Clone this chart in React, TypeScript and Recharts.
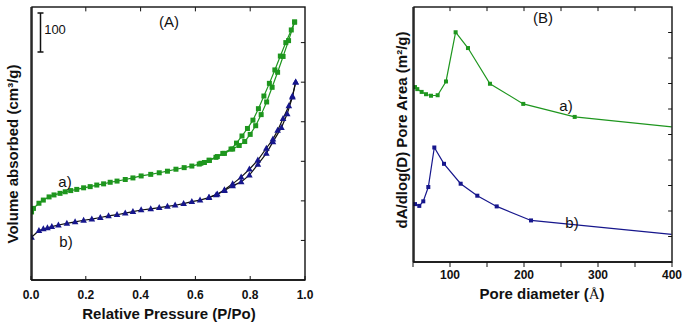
import React from 'react';
import { LineChart, Line, XAxis, YAxis, ReferenceLine } from 'recharts';

// (A) N2 isotherms, relative pressure vs volume (cm3/g)
const greenAdsP = [0.002, 0.009, 0.029, 0.045, 0.066, 0.084, 0.106, 0.125, 0.145, 0.167, 0.192, 0.216, 0.24, 0.265, 0.289, 0.314, 0.344, 0.372, 0.402, 0.437, 0.468, 0.498, 0.529, 0.559, 0.587, 0.614, 0.633, 0.651, 0.675, 0.706, 0.736, 0.76, 0.78, 0.8, 0.82, 0.84, 0.86, 0.88, 0.9, 0.92, 0.94, 0.962];
const greenAdsV = [172, 181, 194, 202, 210, 215, 219, 223, 226, 229, 233, 236, 240, 243, 247, 250, 254, 258, 263, 267, 271, 275, 280, 284, 288, 293, 297, 302, 310, 320, 331, 340, 350, 368, 390, 418, 450, 487, 525, 565, 605, 652];
const greenDesP = [0.962, 0.95, 0.93, 0.91, 0.89, 0.87, 0.85, 0.83, 0.81, 0.79, 0.77, 0.75, 0.73, 0.7, 0.68, 0.65, 0.62];
const greenDesV = [652, 632, 600, 566, 531, 497, 465, 433, 404, 383, 364, 346, 331, 320, 312, 303, 295];

const blueAdsP = [0.002, 0.029, 0.045, 0.06, 0.076, 0.1, 0.131, 0.161, 0.192, 0.222, 0.253, 0.283, 0.314, 0.344, 0.372, 0.402, 0.437, 0.468, 0.498, 0.526, 0.557, 0.587, 0.617, 0.649, 0.676, 0.706, 0.736, 0.767, 0.797, 0.828, 0.859, 0.883, 0.914, 0.935, 0.954, 0.966];
const blueAdsV = [108, 125, 129, 132, 135, 139, 143, 147, 151, 154, 158, 162, 165, 169, 173, 177, 180, 183, 186, 189, 193, 198, 202, 208, 215, 226, 238, 248, 265, 292, 320, 349, 385, 420, 462, 500];
const blueDesP = [0.966, 0.954, 0.941, 0.92, 0.9, 0.883, 0.859, 0.828, 0.797, 0.767, 0.736, 0.706, 0.68, 0.65];
const blueDesV = [500, 465, 440, 408, 378, 356, 333, 303, 280, 260, 243, 228, 217, 209];

const pressureTicks = [0, 0.2, 0.4, 0.6, 0.8, 1.0];
const volumeTicks = [100, 200, 300, 400, 500, 600];

// (B) pore area distribution
const greenPoreD = [52.7, 55.8, 61.7, 67.6, 74.3, 83.3, 94.6, 107.6, 124.3, 154, 199, 268.5, 399.5];
const greenPoreA = [6.86, 6.78, 6.67, 6.58, 6.52, 6.54, 7.08, 9.01, 8.39, 6.99, 6.2, 5.69, 5.3];
const bluePoreD = [52.7, 58.5, 63.9, 70.7, 78.8, 91.9, 114.4, 136.9, 163.1, 209.5, 399.5];
const bluePoreA = [2.27, 2.2, 2.38, 2.94, 4.49, 3.85, 3.07, 2.6, 2.18, 1.63, 1.08];

const diameterTicks = [50, 100, 150, 200, 250, 300, 350, 400];
const areaTicks = [1, 2, 3, 4, 5, 6, 7, 8, 9];

const GREEN = '#1e961e';
const BLUE = '#16168c';
const INK = '#111';
const FONT = '"Liberation Sans", Arial, sans-serif';

const zip = (xs: number[], ys: number[]) => xs.map((x, i) => ({ x, y: ys[i] }));

const Square = (size: number, color: string, skipLast = 0) => (props: any) => {
  const { cx, cy, index } = props;
  if (cx == null || cy == null || (skipLast && index >= skipLast)) return <g key={`s${index}`} />;
  return <rect key={`s${index}`} x={cx - size / 2} y={cy - size / 2} width={size} height={size} fill={color} />;
};

const Triangle = (color: string) => (props: any) => {
  const { cx, cy, index } = props;
  if (cx == null || cy == null) return <g key={`t${index}`} />;
  return <polygon key={`t${index}`} points={`${cx},${cy - 3.6} ${cx - 3.3},${cy + 2.4} ${cx + 3.3},${cy + 2.4}`} fill={color} />;
};

const tickStyle = { fill: INK, fontSize: 12, fontWeight: 700, fontFamily: FONT };
const axisLine = { stroke: INK, strokeWidth: 1.3 };
const tickLine = { stroke: INK, strokeWidth: 1 };

const Txt = ({ x, y, children, size = 15, bold = false, rotate = false }: any) => (
  <div
    style={{
      position: 'absolute',
      left: x,
      top: y,
      transform: `translate(-50%, -50%)${rotate ? ' rotate(-90deg)' : ''}`,
      fontFamily: FONT,
      fontSize: size,
      fontWeight: bold ? 700 : 400,
      color: INK,
      whiteSpace: 'nowrap',
      lineHeight: 1,
      zIndex: 5,
    }}
  >
    {children}
  </div>
);

// inward ticks on the top and right edges
const edgeTicks = (dx: number[], dy: number[], tx: number[], ty: number[]) => {
  const eps = (dy[1] - dy[0]) * 0.0005;
  const lenY = (dy[1] - dy[0]) * 0.016;
  const lenX = (dx[1] - dx[0]) * 0.015;
  return [
    ...tx.filter((t) => t > dx[0] && t < dx[1]).map((t) => (
      <ReferenceLine key={`tt${t}`} segment={[{ x: t, y: dy[1] - eps }, { x: t, y: dy[1] - lenY }]}
        stroke={INK} strokeWidth={1} ifOverflow="visible" />
    )),
    ...ty.map((t) => (
      <ReferenceLine key={`rt${t}`} segment={[{ x: dx[1], y: t }, { x: dx[1] - lenX, y: t }]}
        stroke={INK} strokeWidth={1} ifOverflow="visible" />
    )),
  ];
};

const IsothermPanel = () => (
  <LineChart width={320} height={322} margin={{ top: 7, right: 15, bottom: 12, left: 31 }}>
    <XAxis type="number" dataKey="x" domain={[0, 1]} ticks={pressureTicks} allowDataOverflow
      tickFormatter={(v: number) => v.toFixed(1)} tick={tickStyle} tickSize={-4} tickMargin={14}
      height={30} axisLine={axisLine} tickLine={tickLine} />
    <YAxis type="number" dataKey="y" domain={[0, 690]} ticks={volumeTicks} mirror width={1}
      tick={false} tickSize={4} axisLine={axisLine} tickLine={tickLine} allowDataOverflow />
    {edgeTicks([0, 1], [0, 690], pressureTicks, volumeTicks)}
    <Line data={zip(greenDesP, greenDesV)} dataKey="y" stroke={GREEN} strokeWidth={1.2}
      dot={Square(5, GREEN)} isAnimationActive={false} />
    <Line data={zip(greenAdsP, greenAdsV)} dataKey="y" stroke={GREEN} strokeWidth={1.2}
      dot={Square(5, GREEN)} isAnimationActive={false} />
    <Line data={zip(blueDesP, blueDesV)} dataKey="y" stroke={INK} strokeWidth={1.2}
      dot={Triangle(BLUE)} isAnimationActive={false} />
    <Line data={zip(blueAdsP, blueAdsV)} dataKey="y" stroke={INK} strokeWidth={1.2}
      dot={Triangle(BLUE)} isAnimationActive={false} />
  </LineChart>
);

const PorePanel = () => (
  <LineChart width={328} height={322} margin={{ top: 7, right: 16, bottom: 30, left: 53 }}>
    <XAxis type="number" dataKey="x" domain={[50, 400]} ticks={diameterTicks} allowDataOverflow
      tickFormatter={(v: number) => (v % 100 === 0 ? String(v) : '')} tick={tickStyle}
      tickSize={5} tickMargin={3} height={30} axisLine={axisLine} tickLine={tickLine} />
    <YAxis type="number" dataKey="y" domain={[0, 10]} ticks={areaTicks} mirror width={1}
      tick={false} tickSize={4} axisLine={axisLine} tickLine={tickLine} allowDataOverflow />
    {edgeTicks([50, 400], [0, 10], diameterTicks, areaTicks)}
    <Line data={zip(greenPoreD, greenPoreA)} dataKey="y" stroke={GREEN} strokeWidth={1.2}
      dot={Square(4, GREEN, greenPoreD.length - 1)} isAnimationActive={false} />
    <Line data={zip(bluePoreD, bluePoreA)} dataKey="y" stroke={BLUE} strokeWidth={1.2}
      dot={Square(4, BLUE, bluePoreD.length - 1)} isAnimationActive={false} />
  </LineChart>
);

export default function App() {
  return (
    <div style={{ position: 'absolute', left: 0, top: 0, width: 688, height: 322, background: '#fff' }}>
      <div style={{ position: 'absolute', left: 0, top: 0 }}>
        <IsothermPanel />
      </div>
      <div style={{ position: 'absolute', left: 360, top: 0 }}>
        <PorePanel />
      </div>

      {/* plot boxes (top/right edges) and the 100 scale bar */}
      <svg width={688} height={322} style={{ position: 'absolute', left: 0, top: 0, zIndex: 4, pointerEvents: 'none' }}>
        <rect x={32} y={7} width={273} height={273} fill="none" stroke={INK} strokeWidth={1.4} />
        <rect x={414} y={7} width={258} height={255} fill="none" stroke={INK} strokeWidth={1.4} />
        <line x1={40.5} y1={13} x2={40.5} y2={52} stroke={INK} strokeWidth={1.5} />
        <line x1={37.5} y1={13} x2={43.5} y2={13} stroke={INK} strokeWidth={1.5} />
        <line x1={37.5} y1={52} x2={43.5} y2={52} stroke={INK} strokeWidth={1.5} />
      </svg>
      <Txt x={55} y={28.5} size={13}>100</Txt>

      <Txt x={169} y={21}>(A)</Txt>
      <Txt x={65} y={181}>a)</Txt>
      <Txt x={66} y={241}>b)</Txt>
      <Txt x={12} y={154} bold rotate>Volume absorbed (cm³/g)</Txt>
      <Txt x={169} y={313} bold>Relative Pressure (P/Po)</Txt>

      <Txt x={543} y={17}>(B)</Txt>
      <Txt x={566} y={105}>a)</Txt>
      <Txt x={572} y={222}>b)</Txt>
      <Txt x={401} y={130} bold rotate>dA/dlog(D) Pore Area (m²/g)</Txt>
      <Txt x={542} y={294} bold>
        Pore diameter (<span style={{ fontFamily: '"Liberation Serif", serif', fontWeight: 400 }}>Å</span>)
      </Txt>
    </div>
  );
}
